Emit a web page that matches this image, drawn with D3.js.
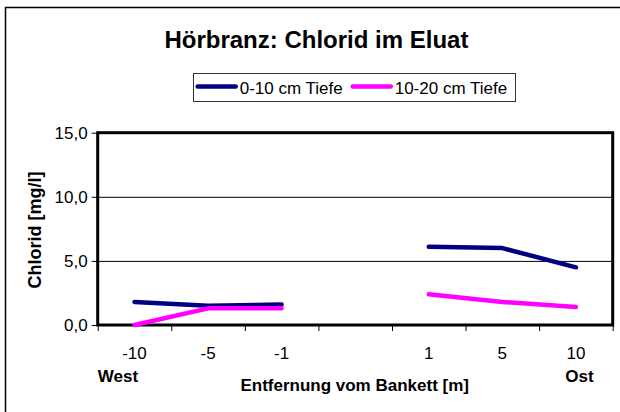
<!DOCTYPE html>
<html>
<head>
<meta charset="utf-8">
<script src="https://cdn.jsdelivr.net/npm/d3@7"></script>
<style>
	body { margin: 0; background: #fff; }
	svg text { font-family: Arial, "Liberation Sans", Helvetica, sans-serif; fill: #000; }
	.axis path { display: none; }
	.axis line { stroke: #000; }
</style>
</head>
<body>
<div id="chart"></div>
<script>
// categories (the empty one is the road, no samples there)
var categories = ['-10', '-5', '-1', '', '1', '5', '10']
var depth0to10 = [1.8, 1.5, 1.6, null, 6.1, 6.0, 4.5]
var depth10to20 = [0.0, 1.3, 1.3, null, 2.4, 1.8, 1.4]
var seriesNames = ['0-10 cm Tiefe', '10-20 cm Tiefe']
var seriesColors = ['#000080', '#ff00ff']
var yTicks = [0, 5, 10, 15]

var width = 620
var height = 412

var plot = { left: 97.7, right: 612.7, top: 132.7, bottom: 325 }

var svg = d3.select('#chart').append('svg')
	.attr('width', width)
	.attr('height', height)

// outer chart frame, cut at the right and bottom like the picture
svg.append('path')
	.attr('d', 'M5.5,' + height + 'V7.5H' + width)
	.attr('fill', 'none')
	.attr('stroke', '#000')
	.attr('stroke-width', 1.5)

var xScale = d3.scaleBand()
	.domain(d3.range(categories.length))
	.range([plot.left, plot.right])

var xEdge = d3.scaleLinear()
	.domain([0, categories.length])
	.range([plot.left, plot.right])

var yScale = d3.scaleLinear()
	.domain([0, 15])
	.range([plot.bottom, plot.top])

// gridlines
svg.append('g').selectAll('line')
	.data(yTicks.filter(function(d) { return d > 0 && d < 15 }))
	.enter().append('line')
	.attr('x1', plot.left)
	.attr('x2', plot.right)
	.attr('y1', function(d) { return yScale(d) + 0.5 })
	.attr('y2', function(d) { return yScale(d) + 0.5 })
	.attr('stroke', '#000')
	.attr('stroke-width', 1)

// y axis
var yAxis = svg.append('g')
	.attr('class', 'axis')
	.attr('transform', 'translate(' + plot.left + ',0)')
	.call(
		d3.axisLeft(yScale)
			.tickValues(yTicks)
			.tickSize(6)
			.tickPadding(4)
			.tickFormat(function(d) { return d3.format('.1f')(d).replace('.', ',') })
	)
yAxis.selectAll('text')
	.style('font-size', '17px')
	.attr('dy', '0.35em')

// x axis: boundary ticks
svg.append('g')
	.attr('class', 'axis')
	.attr('transform', 'translate(0,' + plot.bottom + ')')
	.call(
		d3.axisBottom(xEdge)
			.tickValues(d3.range(categories.length + 1))
			.tickSize(6)
			.tickFormat('')
	)

// x axis: labels at category centres
var xAxis = svg.append('g')
	.attr('class', 'axis')
	.attr('transform', 'translate(0,' + plot.bottom + ')')
	.call(
		d3.axisBottom(xScale)
			.tickSize(0)
			.tickPadding(0)
			.tickFormat(function(i) { return categories[i] })
	)
xAxis.selectAll('line').remove()
xAxis.selectAll('text')
	.style('font-size', '17px')
	.attr('dy', null)
	.attr('y', 34)

// plot border
svg.append('rect')
	.attr('x', plot.left)
	.attr('y', plot.top)
	.attr('width', plot.right - plot.left)
	.attr('height', plot.bottom - plot.top)
	.attr('fill', 'none')
	.attr('stroke', '#000')
	.attr('stroke-width', 3)

// lines
var series = [depth0to10, depth10to20]
var line = d3.line()
	.defined(function(d) { return d !== null })
	.x(function(d, i) { return xScale(i) + xScale.bandwidth() / 2 })
	.y(function(d) { return yScale(d) })

svg.append('g').selectAll('path')
	.data(series)
	.enter().append('path')
	.attr('d', line)
	.attr('fill', 'none')
	.attr('stroke', function(d, i) { return seriesColors[i] })
	.attr('stroke-width', 4.5)
	.attr('stroke-linecap', 'round')
	.attr('stroke-linejoin', 'round')

// title
svg.append('text')
	.attr('x', 316.4)
	.attr('y', 48)
	.attr('text-anchor', 'middle')
	.style('font-size', '24px')
	.style('font-weight', 'bold')
	.text('Hörbranz: Chlorid im Eluat')

// legend
var legend = svg.append('g')
legend.append('rect')
	.attr('x', 193.5)
	.attr('y', 73.5)
	.attr('width', 322)
	.attr('height', 28)
	.attr('fill', '#fff')
	.attr('stroke', '#333')
	.attr('stroke-width', 1)

var legendX = [197.7, 352.7]
var legendItems = legend.selectAll('g.item')
	.data(seriesNames)
	.enter().append('g')
	.attr('class', 'item')
	.attr('transform', function(d, i) { return 'translate(' + legendX[i] + ',0)' })

legendItems.append('line')
	.attr('x1', 0)
	.attr('x2', 38)
	.attr('y1', 86.5)
	.attr('y2', 86.5)
	.attr('stroke', function(d, i) { return seriesColors[i] })
	.attr('stroke-width', 4.5)
	.attr('stroke-linecap', 'round')

legendItems.append('text')
	.attr('x', 42)
	.attr('y', 93.5)
	.style('font-size', '17px')
	.text(function(d) { return d })

// axis titles
svg.append('text')
	.attr('transform', 'translate(41,230) rotate(-90)')
	.attr('text-anchor', 'middle')
	.style('font-size', '18px')
	.style('font-weight', 'bold')
	.text('Chlorid [mg/l]')

svg.append('text')
	.attr('x', 354.7)
	.attr('y', 391)
	.attr('text-anchor', 'middle')
	.style('font-size', '17px')
	.style('font-weight', 'bold')
	.text('Entfernung vom Bankett [m]')

svg.append('text')
	.attr('x', 118)
	.attr('y', 381.5)
	.attr('text-anchor', 'middle')
	.style('font-size', '17px')
	.style('font-weight', 'bold')
	.text('West')

svg.append('text')
	.attr('x', 579.5)
	.attr('y', 381.5)
	.attr('text-anchor', 'middle')
	.style('font-size', '17px')
	.style('font-weight', 'bold')
	.text('Ost')
</script>
</body>
</html>
